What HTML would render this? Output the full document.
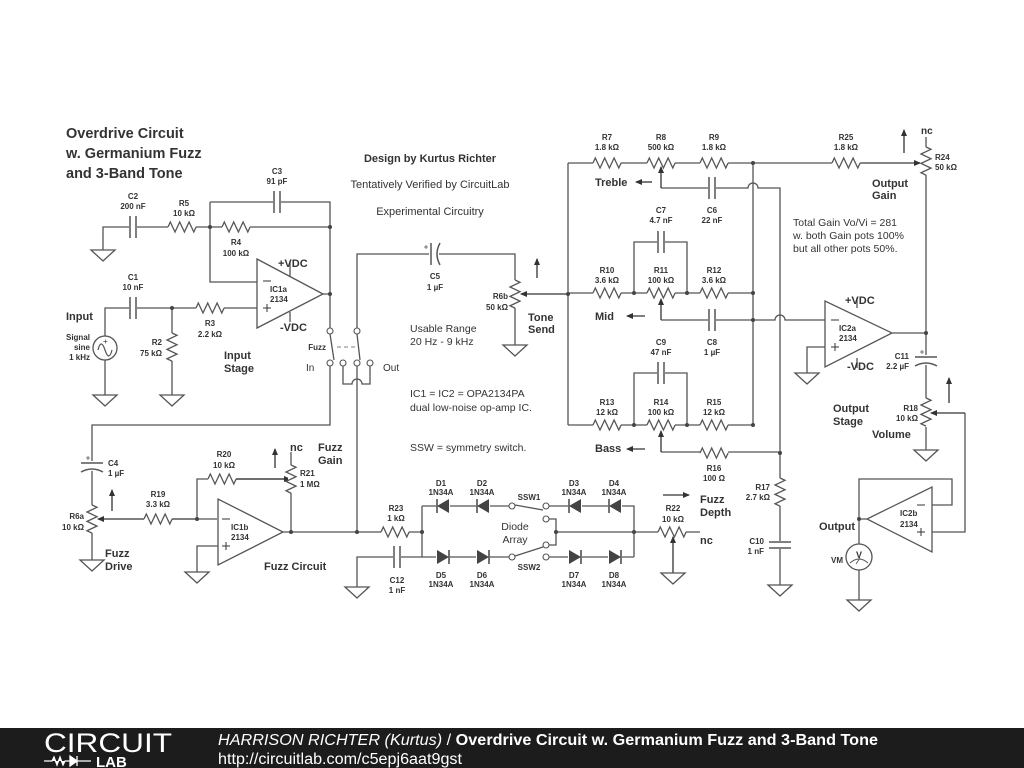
<!DOCTYPE html>
<html><head><meta charset="utf-8"><style>
html,body{margin:0;padding:0;background:#fff;}
svg{display:block;}
text{font-family:"Liberation Sans",sans-serif;fill:#333;}
.c{font-size:8px;font-weight:bold;text-anchor:middle;}
.cr{font-size:8px;font-weight:bold;text-anchor:end;}
.cl{font-size:8px;font-weight:bold;}
.g{font-size:11px;font-weight:bold;}
.n{font-size:11px;}
</style></head><body>
<svg width="1024" height="768" viewBox="0 0 1024 768" xmlns="http://www.w3.org/2000/svg">
<defs>
<g id="rh"><rect x="0" y="-3" width="28" height="6" fill="#fff"/><path d="M0 0 l2.3 -5 l4.7 10 l4.7 -10 l4.7 10 l4.7 -10 l4.7 10 l2.3 -5" fill="none" stroke="#555" stroke-width="1.3"/></g>
<g id="rv"><rect x="-3" y="0" width="6" height="28" fill="#fff"/><path d="M0 0 l5 2.3 l-10 4.7 l10 4.7 l-10 4.7 l10 4.7 l-10 4.7 l5 2.3" fill="none" stroke="#555" stroke-width="1.3"/></g>
<g id="gnd"><path d="M-12 0 H12 L0 11 Z" fill="#fff" stroke="#555" stroke-width="1.3"/></g>
<g id="ch"><rect x="-4" y="-2" width="8" height="4" fill="#fff"/><path d="M-3 -11 V11 M3 -11 V11" stroke="#555" stroke-width="1.5"/></g>
<g id="cv"><rect x="-2" y="-4" width="4" height="8" fill="#fff"/><path d="M-11 -3 H11 M-11 3 H11" stroke="#555" stroke-width="1.5"/></g>
<g id="cpv"><rect x="-2" y="-5" width="4" height="10" fill="#fff"/><path d="M-11 -3 H11" stroke="#555" stroke-width="1.5"/><path d="M-11 6 Q0 0 11 6" fill="none" stroke="#555" stroke-width="1.5"/><path d="M-6 -8 h4 M-4 -10 v4" stroke="#555" stroke-width="0.8"/></g>
<g id="cph"><rect x="-5" y="-2" width="10" height="4" fill="#fff"/><path d="M-3 -11 V11" stroke="#555" stroke-width="1.5"/><path d="M6 -11 Q0 0 6 11" fill="none" stroke="#555" stroke-width="1.5"/><path d="M-10 -7 h4 M-8 -9 v4" stroke="#555" stroke-width="0.8"/></g>
<g id="dl"><rect x="-7" y="-2" width="14" height="4" fill="#fff"/><polygon points="-6,0 6,-7 6,7" fill="#444"/><path d="M-6 -7 V7" stroke="#444" stroke-width="1.5"/></g>
<g id="dr"><rect x="-7" y="-2" width="14" height="4" fill="#fff"/><polygon points="6,0 -6,-7 -6,7" fill="#444"/><path d="M6 -7 V7" stroke="#444" stroke-width="1.5"/></g>
<marker id="ah" markerWidth="8" markerHeight="8" refX="6" refY="3" orient="auto" markerUnits="userSpaceOnUse"><path d="M0 0 L7 3 L0 6 Z" fill="#333"/></marker>
</defs>

<g fill="none" stroke="#555" stroke-width="1.3">
<path d="M103 250 V227 H330 M210 202 V282 H257 M210 202 H330 V328"/>
<path d="M105 336 V308 H257 M172 308 V395 M105 360 V395"/>
<polygon points="257,259 257,328 323,294" fill="#fff"/>
<path d="M323 294 H330 M290 276 V262 M290 312 V322"/>
<path d="M330 334 L334 360 M357 334 L360 360"/>
<path d="M337 347 H355" stroke-dasharray="4,3" stroke="#999"/>
<path d="M343 366 V384 H352 a5 5 0 0 1 10 0 H370 V366"/>
<path d="M357 366 V532 M357 328 V254 H515 V280 M515 308 V345"/>
<path d="M330 366 V425 H92 V505 M92 533 V560"/>
<path d="M197 519 H217 M197 519 V479 H286 M291 452 V465 M291 493 V532"/>
<polygon points="218,499 218,565 283,532" fill="#fff"/>
<path d="M283 532 H422 M218 546 H197 V572"/>
<path d="M422 506 V557 M422 506 H509 M549 506 H634 V557 M549 519 H556 V545 H549 M556 532 H700 M422 557 H509 M549 557 H634"/>
<path d="M515 505 L543 510 M515 556 L543 547"/>
<path d="M357 587 V557 H422"/>
<path d="M568 163 V425 M568 163 H920 M753 163 V425"/>
<path d="M661 188 H748 a5 5 0 0 1 10 0 H780 V585"/>
<path d="M926 137 V398 M926 427 V450"/>
<path d="M568 293 H753 M634 293 V242 H687 V293"/>
<path d="M661 320 H775 a5 5 0 0 1 10 0 H825"/>
<path d="M568 425 H753 M634 425 V373 H687 V425"/>
<path d="M661 452 H780"/>
<polygon points="825,301 825,367 892,333" fill="#fff"/>
<path d="M892 333 H926 M825 347 H807 V373 M857 308 V298 M857 358 V368"/>
<path d="M965 413 V532 H932"/>
<polygon points="932,487 932,552 867,519" fill="#fff"/>
<path d="M932 505 H952 V479 H859 V544 M867 519 H859 M859 570 V600"/>
</g>

<g stroke="#333" stroke-width="1.3" fill="none" marker-end="url(#ah)">
<path d="M568 294 H521"/>
<path d="M537 278 V259"/>
<path d="M197 519 H98"/>
<path d="M112 511 V490"/>
<path d="M208 479 H290"/>
<path d="M275 468 V449"/>
<path d="M673 573 V537"/>
<path d="M663 495 H689"/>
<path d="M661 188 V167"/>
<path d="M661 320 V299"/>
<path d="M661 452 V431"/>
<path d="M652 182 H636"/>
<path d="M645 316 H627"/>
<path d="M645 449 H627"/>
<path d="M904 153 V130"/>
<path d="M965 413 H931"/>
<path d="M949 403 V378"/>
</g>
<path d="M861 163 H920" stroke="#555" stroke-width="1.3" fill="none" marker-end="url(#ah)"/>

<use href="#ch" x="133" y="227"/><use href="#rh" x="168" y="227"/><use href="#rh" x="222" y="227"/>
<use href="#ch" x="277" y="202"/><use href="#ch" x="133" y="308"/><use href="#rh" x="196" y="308"/>
<use href="#rv" x="172" y="333"/>
<use href="#gnd" x="103" y="250"/><use href="#gnd" x="105" y="395"/><use href="#gnd" x="172" y="395"/>
<circle cx="105" cy="348" r="12" fill="#fff" stroke="#555" stroke-width="1.3"/>
<path d="M98 350 q3 -12 7 0 t7 0" fill="none" stroke="#555" stroke-width="1.2"/>
<text x="103" y="344" style="font-size:8px">+</text>
<g fill="#fff" stroke="#555" stroke-width="1.1">
<circle cx="330" cy="331" r="3"/><circle cx="357" cy="331" r="3"/>
<circle cx="330" cy="363" r="3"/><circle cx="343" cy="363" r="3"/><circle cx="357" cy="363" r="3"/><circle cx="370" cy="363" r="3"/>
<circle cx="512" cy="506" r="3"/><circle cx="546" cy="506" r="3"/><circle cx="546" cy="519" r="3"/><circle cx="546" cy="545" r="3"/><circle cx="512" cy="557" r="3"/><circle cx="546" cy="557" r="3"/>
</g>
<use href="#cph" x="434" y="254"/><use href="#rv" x="515" y="280"/><use href="#gnd" x="515" y="345"/>
<use href="#cpv" x="92" y="466"/><use href="#rv" x="92" y="505"/><use href="#gnd" x="92" y="560"/>
<use href="#rh" x="144" y="519"/><use href="#rh" x="208" y="479"/><use href="#rv" x="291" y="465"/>
<use href="#gnd" x="197" y="572"/><use href="#rh" x="381" y="532"/>
<use href="#dl" x="443" y="506"/><use href="#dl" x="483" y="506"/><use href="#dl" x="575" y="506"/><use href="#dl" x="615" y="506"/>
<use href="#dr" x="443" y="557"/><use href="#dr" x="483" y="557"/><use href="#dr" x="575" y="557"/><use href="#dr" x="615" y="557"/>
<use href="#ch" x="397" y="557"/><use href="#gnd" x="357" y="587"/>
<use href="#rh" x="658" y="532"/><use href="#gnd" x="673" y="573"/>
<use href="#rh" x="593" y="163"/><use href="#rh" x="647" y="163"/><use href="#rh" x="700" y="163"/><use href="#rh" x="832" y="163"/>
<use href="#rv" x="926" y="147"/><use href="#ch" x="712" y="188"/>
<use href="#rh" x="593" y="293"/><use href="#rh" x="647" y="293"/><use href="#rh" x="700" y="293"/><use href="#ch" x="661" y="242"/><use href="#ch" x="712" y="320"/>
<use href="#rh" x="593" y="425"/><use href="#rh" x="647" y="425"/><use href="#rh" x="700" y="425"/><use href="#ch" x="661" y="373"/>
<use href="#rh" x="700" y="453"/><use href="#rv" x="780" y="478"/><use href="#cv" x="780" y="545"/><use href="#gnd" x="780" y="585"/>
<use href="#gnd" x="807" y="373"/><use href="#cpv" x="926" y="360"/><use href="#rv" x="926" y="398"/><use href="#gnd" x="926" y="450"/>
<circle cx="859" cy="557" r="13" fill="#fff" stroke="#555" stroke-width="1.3"/>
<path d="M850 563 q9 -8 18 0 M856 564 l4 -6" fill="none" stroke="#555" stroke-width="0.9"/>
<text x="859" y="558" style="font-size:9px;font-weight:bold;text-anchor:middle">V</text>
<use href="#gnd" x="859" y="600"/>
<g fill="#444">
<circle cx="210" cy="227" r="2"/><circle cx="330" cy="227" r="2"/><circle cx="330" cy="294" r="2"/><circle cx="172" cy="308" r="2"/>
<circle cx="197" cy="519" r="2"/><circle cx="291" cy="532" r="2"/><circle cx="357" cy="532" r="2"/><circle cx="422" cy="532" r="2"/><circle cx="556" cy="532" r="2"/><circle cx="634" cy="532" r="2"/>
<circle cx="568" cy="294" r="2"/><circle cx="753" cy="163" r="2"/><circle cx="753" cy="293" r="2"/><circle cx="753" cy="320" r="2"/><circle cx="753" cy="425" r="2"/>
<circle cx="634" cy="293" r="2"/><circle cx="687" cy="293" r="2"/><circle cx="634" cy="425" r="2"/><circle cx="687" cy="425" r="2"/>
<circle cx="780" cy="453" r="2"/><circle cx="926" cy="333" r="2"/><circle cx="859" cy="519" r="2"/>
</g>
<path d="M263 281 h8 M263 308 h8 M267 304 v8 M831 320 h8 M831 347 h8 M835 343 v8 M222 519 h8 M222 546 h8 M226 542 v8 M917 505 h8 M917 532 h8 M921 528 v8" stroke="#333" stroke-width="1"/>

<text x="66" y="138" class="g" style="font-size:14.5px">Overdrive Circuit</text>
<text x="66" y="158" class="g" style="font-size:14.5px">w. Germanium Fuzz</text>
<text x="66" y="178" class="g" style="font-size:14.5px">and 3-Band Tone</text>
<text x="430" y="162" class="g" text-anchor="middle">Design by Kurtus Richter</text>
<text x="430" y="188" class="n" text-anchor="middle">Tentatively Verified by CircuitLab</text>
<text x="430" y="215" class="n" text-anchor="middle">Experimental Circuitry</text>
<text x="410" y="332" class="n" style="font-size:10.5px">Usable Range</text>
<text x="410" y="345" class="n" style="font-size:10.5px">20 Hz - 9 kHz</text>
<text x="410" y="397" class="n" style="font-size:10.5px">IC1 = IC2 = OPA2134PA</text>
<text x="410" y="411" class="n" style="font-size:10.5px">dual low-noise op-amp IC.</text>
<text x="410" y="451" class="n" style="font-size:10.5px">SSW = symmetry switch.</text>
<text x="793" y="226" class="n" style="font-size:10.5px">Total Gain Vo/Vi = 281</text>
<text x="793" y="239" class="n" style="font-size:10.5px">w. both Gain pots 100%</text>
<text x="793" y="252" class="n" style="font-size:10.5px">but all other pots 50%.</text>

<text x="133" y="199" class="c">C2</text><text x="133" y="209" class="c">200 nF</text>
<text x="184" y="206" class="c">R5</text><text x="184" y="216" class="c">10 kΩ</text>
<text x="277" y="174" class="c">C3</text><text x="277" y="184" class="c">91 pF</text>
<text x="236" y="245" class="c">R4</text><text x="236" y="256" class="c">100 kΩ</text>
<text x="133" y="280" class="c">C1</text><text x="133" y="290" class="c">10 nF</text>
<text x="210" y="326" class="c">R3</text><text x="210" y="337" class="c">2.2 kΩ</text>
<text x="162" y="345" class="cr">R2</text><text x="162" y="356" class="cr">75 kΩ</text>
<text x="278" y="267" class="g">+VDC</text><text x="280" y="331" class="g">-VDC</text>
<text x="270" y="292" class="cl">IC1a</text><text x="270" y="302" class="cl">2134</text>
<text x="66" y="320" class="g">Input</text>
<text x="90" y="340" class="cr">Signal</text><text x="90" y="350" class="cr">sine</text><text x="90" y="360" class="cr">1 kHz</text>
<text x="224" y="359" class="g">Input</text><text x="224" y="372" class="g">Stage</text>
<text x="326" y="350" class="cr">Fuzz</text>
<text x="306" y="371" class="n" style="font-size:10px">In</text><text x="383" y="371" class="n" style="font-size:10px">Out</text>
<text x="435" y="279" class="c">C5</text><text x="435" y="290" class="c">1 µF</text>
<text x="508" y="299" class="cr">R6b</text><text x="508" y="310" class="cr">50 kΩ</text>
<text x="528" y="321" class="g">Tone</text><text x="528" y="333" class="g">Send</text>
<text x="108" y="466" class="cl">C4</text><text x="108" y="476" class="cl">1 µF</text>
<text x="84" y="519" class="cr">R6a</text><text x="84" y="530" class="cr">10 kΩ</text>
<text x="105" y="557" class="g">Fuzz</text><text x="105" y="570" class="g">Drive</text>
<text x="158" y="497" class="c">R19</text><text x="158" y="507" class="c">3.3 kΩ</text>
<text x="224" y="457" class="c">R20</text><text x="224" y="468" class="c">10 kΩ</text>
<text x="300" y="476" class="cl">R21</text><text x="300" y="487" class="cl">1 MΩ</text>
<text x="290" y="451" class="g">nc</text>
<text x="318" y="451" class="g">Fuzz</text><text x="318" y="464" class="g">Gain</text>
<text x="231" y="530" class="cl">IC1b</text><text x="231" y="540" class="cl">2134</text>
<text x="264" y="570" class="g">Fuzz Circuit</text>
<text x="396" y="511" class="c">R23</text><text x="396" y="521" class="c">1 kΩ</text>
<text x="397" y="583" class="c">C12</text><text x="397" y="593" class="c">1 nF</text>
<text x="441" y="486" class="c">D1</text><text x="441" y="495" class="c">1N34A</text>
<text x="482" y="486" class="c">D2</text><text x="482" y="495" class="c">1N34A</text>
<text x="574" y="486" class="c">D3</text><text x="574" y="495" class="c">1N34A</text>
<text x="614" y="486" class="c">D4</text><text x="614" y="495" class="c">1N34A</text>
<text x="441" y="578" class="c">D5</text><text x="441" y="587" class="c">1N34A</text>
<text x="482" y="578" class="c">D6</text><text x="482" y="587" class="c">1N34A</text>
<text x="574" y="578" class="c">D7</text><text x="574" y="587" class="c">1N34A</text>
<text x="614" y="578" class="c">D8</text><text x="614" y="587" class="c">1N34A</text>
<text x="529" y="500" class="c">SSW1</text><text x="529" y="570" class="c">SSW2</text>
<text x="515" y="530" class="n" text-anchor="middle" style="font-size:10.5px">Diode</text>
<text x="515" y="543" class="n" text-anchor="middle" style="font-size:10.5px">Array</text>
<text x="673" y="511" class="c">R22</text><text x="673" y="522" class="c">10 kΩ</text>
<text x="700" y="503" class="g">Fuzz</text><text x="700" y="516" class="g">Depth</text>
<text x="700" y="544" class="g">nc</text>
<text x="607" y="140" class="c">R7</text><text x="607" y="150" class="c">1.8 kΩ</text>
<text x="661" y="140" class="c">R8</text><text x="661" y="150" class="c">500 kΩ</text>
<text x="714" y="140" class="c">R9</text><text x="714" y="150" class="c">1.8 kΩ</text>
<text x="846" y="140" class="c">R25</text><text x="846" y="150" class="c">1.8 kΩ</text>
<text x="921" y="134" class="g" style="font-size:10px">nc</text>
<text x="935" y="160" class="cl">R24</text><text x="935" y="170" class="cl">50 kΩ</text>
<text x="595" y="186" class="g">Treble</text>
<text x="872" y="187" class="g">Output</text><text x="872" y="199" class="g">Gain</text>
<text x="712" y="213" class="c">C6</text><text x="712" y="223" class="c">22 nF</text>
<text x="661" y="213" class="c">C7</text><text x="661" y="223" class="c">4.7 nF</text>
<text x="607" y="273" class="c">R10</text><text x="607" y="283" class="c">3.6 kΩ</text>
<text x="661" y="273" class="c">R11</text><text x="661" y="283" class="c">100 kΩ</text>
<text x="714" y="273" class="c">R12</text><text x="714" y="283" class="c">3.6 kΩ</text>
<text x="595" y="320" class="g">Mid</text>
<text x="661" y="345" class="c">C9</text><text x="661" y="355" class="c">47 nF</text>
<text x="712" y="345" class="c">C8</text><text x="712" y="355" class="c">1 µF</text>
<text x="607" y="405" class="c">R13</text><text x="607" y="415" class="c">12 kΩ</text>
<text x="661" y="405" class="c">R14</text><text x="661" y="415" class="c">100 kΩ</text>
<text x="714" y="405" class="c">R15</text><text x="714" y="415" class="c">12 kΩ</text>
<text x="595" y="452" class="g">Bass</text>
<text x="714" y="471" class="c">R16</text><text x="714" y="481" class="c">100 Ω</text>
<text x="770" y="490" class="cr">R17</text><text x="770" y="500" class="cr">2.7 kΩ</text>
<text x="764" y="544" class="cr">C10</text><text x="764" y="554" class="cr">1 nF</text>
<text x="845" y="304" class="g">+VDC</text><text x="847" y="370" class="g">-VDC</text>
<text x="839" y="331" class="cl">IC2a</text><text x="839" y="341" class="cl">2134</text>
<text x="909" y="359" class="cr">C11</text><text x="909" y="369" class="cr">2.2 µF</text>
<text x="833" y="412" class="g">Output</text><text x="833" y="425" class="g">Stage</text>
<text x="918" y="411" class="cr">R18</text><text x="918" y="421" class="cr">10 kΩ</text>
<text x="872" y="438" class="g">Volume</text>
<text x="900" y="516" class="cl">IC2b</text><text x="900" y="527" class="cl">2134</text>
<text x="855" y="530" class="g" text-anchor="end">Output</text>
<text x="843" y="563" class="cr">VM</text>

<rect x="0" y="728" width="1024" height="40" fill="#1c1c1c"/>
<text x="44" y="752" textLength="128" lengthAdjust="spacingAndGlyphs" style="font-size:27px;fill:#fff">CIRCUIT</text>
<path d="M44 761 h8 l2 -4 l3 8 l3 -8 l3 8 l2 -4 h10 M77 756 v10 M70 756 l7 5 l-7 5 z M77 761 h14" stroke="#fff" stroke-width="1.3" fill="#fff"/>
<text x="96" y="767" style="font-size:15px;fill:#fff;font-weight:bold">LAB</text>
<text x="218" y="745" textLength="660" lengthAdjust="spacingAndGlyphs" style="font-size:15.5px;fill:#fff"><tspan font-style="italic">HARRISON RICHTER (Kurtus)</tspan> / <tspan font-weight="bold">Overdrive Circuit w. Germanium Fuzz and 3-Band Tone</tspan></text>
<text x="218" y="764" textLength="244" lengthAdjust="spacingAndGlyphs" style="font-size:15.5px;fill:#fff">http://circuitlab.com/c5epj6aat9gst</text>
</svg>
</body></html>
